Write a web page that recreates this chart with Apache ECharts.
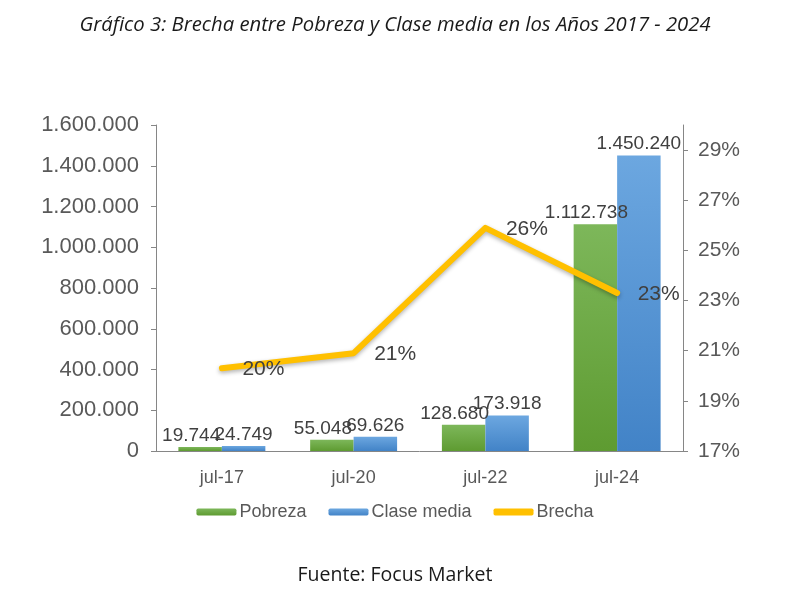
<!DOCTYPE html>
<html>
<head>
<meta charset="utf-8">
<script src="https://cdn.jsdelivr.net/npm/echarts@6/dist/echarts.min.js"></script>
<style>
  html, body { margin: 0; padding: 0; background: #fff; }
  #chart { width: 790px; height: 609px; }
</style>
</head>
<body>
<div id="chart"></div>
<script>
// datos del grafico
var categorias = ['jul-17', 'jul-20', 'jul-22', 'jul-24'];
var pobreza = [19744, 55048, 128680, 1112738];
var claseMedia = [24749, 69626, 173918, 1450240];
var brecha = [20.3, 20.9, 25.9, 23.3];
var ticksDerecha = [17, 19, 21, 23, 25, 27, 29];

function miles(v) {
    return String(v).replace(/\B(?=(\d{3})+(?!\d))/g, '.');
}

var chart = echarts.init(document.getElementById('chart'));
var axisColor = '#868686';
var textColor = '#595959';
var arial = "'Liberation Sans', Arial, sans-serif";

var option = {
    animation: false,
    title: [
        {
            text: 'Gráfico 3: Brecha entre Pobreza y Clase media en los Años 2017 - 2024',
            left: 'center',
            top: 10,
            textStyle: {
                fontFamily: 'Open Sans', fontStyle: 'italic', fontWeight: 'normal',
                fontSize: 20.3, color: '#1a1a1a'
            }
        },
        {
            text: 'Fuente: Focus Market',
            left: 'center',
            top: 560,
            textStyle: {
                fontFamily: 'Open Sans', fontWeight: 'normal', fontSize: 19.5, color: '#1a1a1a'
            }
        }
    ],
    grid: { left: 156, right: 107, top: 125, bottom: 158 },
    legend: {
        bottom: 83,
        left: 'center',
        itemWidth: 40,
        itemHeight: 7,
        itemGap: 22,
        textStyle: { fontFamily: arial, fontSize: 18, color: textColor, padding: [0, 0, 0, -2] },
        data: [
            'Pobreza',
            'Clase media',
            { name: 'Brecha', icon: 'roundRect', itemStyle: { color: '#ffc000' } }
        ]
    },
    xAxis: {
        type: 'category',
        data: categorias,
        axisLine: { lineStyle: { color: axisColor } },
        axisTick: { lineStyle: { color: axisColor }, length: 6 },
        axisLabel: { fontFamily: arial, fontSize: 18, color: textColor, margin: 18 }
    },
    yAxis: [
        {
            type: 'value',
            min: 0,
            max: 1600000,
            interval: 200000,
            splitLine: { show: false },
            axisLine: { show: true, lineStyle: { color: axisColor } },
            axisTick: { show: true, lineStyle: { color: axisColor }, length: 5 },
            axisLabel: { fontFamily: arial, fontSize: 22, color: textColor, margin: 17, formatter: miles }
        },
        {
            type: 'value',
            min: 17,
            max: 30,
            splitLine: { show: false },
            axisLine: { show: true, lineStyle: { color: axisColor } },
            axisTick: { show: true, lineStyle: { color: axisColor }, length: 5, customValues: ticksDerecha },
            axisLabel: {
                fontFamily: arial, fontSize: 21, color: textColor, margin: 15,
                customValues: ticksDerecha,
                formatter: function (v) { return v + '%'; }
            }
        }
    ],
    series: [
        {
            name: 'Pobreza',
            type: 'bar',
            data: pobreza,
            barGap: '0%',
            barCategoryGap: '34%',
            itemStyle: {
                color: new echarts.graphic.LinearGradient(0, 0, 0, 1, [
                    { offset: 0, color: '#7db75a' },
                    { offset: 1, color: '#5e9b31' }
                ])
            },
            label: {
                show: true, position: 'top', distance: 2, offset: [-9, 0],
                fontFamily: arial, fontSize: 19, color: '#404040',
                formatter: function (p) { return miles(p.value); }
            }
        },
        {
            name: 'Clase media',
            type: 'bar',
            data: claseMedia,
            itemStyle: {
                color: new echarts.graphic.LinearGradient(0, 0, 0, 1, [
                    { offset: 0, color: '#6ca7e0' },
                    { offset: 1, color: '#4283c7' }
                ])
            },
            label: {
                show: true, position: 'top', distance: 2,
                fontFamily: arial, fontSize: 19, color: '#404040',
                formatter: function (p) { return miles(p.value); }
            }
        },
        {
            name: 'Brecha',
            type: 'line',
            yAxisIndex: 1,
            data: brecha,
            symbol: 'circle',
            symbolSize: 1,
            showSymbol: true,
            z: 5,
            itemStyle: { color: '#ffc000' },
            lineStyle: {
                color: '#ffc000', width: 6, cap: 'round', join: 'round',
                shadowColor: 'rgba(0,0,0,0.3)', shadowBlur: 4, shadowOffsetY: 2
            },
            label: {
                show: true, position: 'right', distance: 20, offset: [0, 1],
                fontFamily: arial, fontSize: 21, color: '#404040',
                formatter: function (p) { return Math.round(p.value) + '%'; }
            }
        }
    ]
};
chart.setOption(option);
</script>
</body>
</html>
